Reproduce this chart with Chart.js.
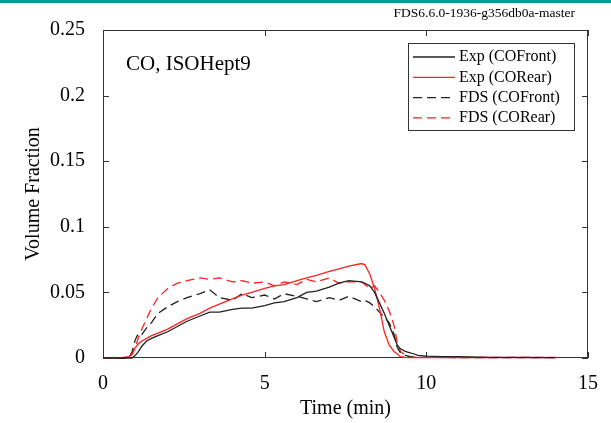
<!DOCTYPE html>
<html>
<head>
<meta charset="utf-8">
<script src="https://cdn.jsdelivr.net/npm/chart.js@4.4.1/dist/chart.umd.min.js"></script>
<style>
  body { margin: 0; background: #fff; }
  #wrap { position: relative; width: 611px; height: 423px; }
  #bar { position: absolute; left: 0; top: 0; width: 611px; height: 3px; background: #0a9a94; }
  #stamp { position: absolute; right: 36px; top: 5px; font: 13.5px "Liberation Serif", serif; color: #000; }
</style>
</head>
<body>
<div id="wrap">
  <canvas id="chart" width="611" height="423"></canvas>
  <div id="bar"></div>
  <div id="stamp">FDS6.6.0-1936-g356db0a-master</div>
</div>
<script>
// time in minutes, shared by all four series
const time = [0, 0.5, 0.8, 0.9, 1.0, 1.1, 1.2, 1.35, 1.5, 1.7, 2.0, 2.3, 2.6, 3.0, 3.3, 3.6, 4.0, 4.3, 4.6, 5.0,
  5.3, 5.6, 6.0, 6.3, 6.6, 7.0, 7.3, 7.6, 8.0, 8.1, 8.25, 8.4, 8.55, 8.7, 8.85, 9.0, 9.1, 9.2, 9.35, 9.5,
  9.75, 10, 10.5, 11, 12, 13, 14];

const expFront = [0, 0, 0, 0, 0.002, 0.005, 0.009, 0.013, 0.015, 0.017, 0.020, 0.024, 0.028, 0.032, 0.035, 0.035, 0.037, 0.038, 0.038, 0.040,
  0.042, 0.043, 0.046, 0.050, 0.051, 0.054, 0.057, 0.059, 0.058, 0.057, 0.055, 0.050, 0.042, 0.034, 0.025, 0.016, 0.010, 0.007, 0.005, 0.004,
  0.002, 0.0015, 0.001, 0.001, 0.0005, 0.0005, 0.0003];

const expRear = [0, 0, 0.001, 0.003, 0.008, 0.011, 0.013, 0.015, 0.017, 0.019, 0.022, 0.026, 0.030, 0.034, 0.038, 0.041, 0.045, 0.048, 0.050, 0.053,
  0.055, 0.056, 0.059, 0.061, 0.063, 0.066, 0.068, 0.070, 0.072, 0.071, 0.064, 0.053, 0.038, 0.020, 0.010, 0.005, 0.003, 0.001, 0.0005, 0.0003,
  0.0003, 0.0003, 0.0003, 0.0003, 0.0003, 0.0003, 0.0003];

const fdsFront = [0, 0, 0, 0.005, 0.014, 0.019, 0.018, 0.023, 0.027, 0.034, 0.039, 0.043, 0.046, 0.049, 0.052, 0.046, 0.044, 0.049, 0.046, 0.048,
  0.045, 0.049, 0.047, 0.045, 0.043, 0.046, 0.044, 0.047, 0.043, 0.044, 0.042, 0.039, 0.035, 0.031, 0.027, 0.018, 0.008, 0.004, 0.002, 0.001,
  0.0005, 0.0005, 0.0005, 0.0003, 0.0003, 0.0003, 0.0003];

const fdsRear = [0, 0, 0, 0.003, 0.008, 0.016, 0.022, 0.030, 0.038, 0.046, 0.053, 0.057, 0.059, 0.061, 0.060, 0.061, 0.058, 0.059, 0.057, 0.058,
  0.055, 0.058, 0.056, 0.060, 0.058, 0.061, 0.057, 0.058, 0.058, 0.056, 0.053, 0.055, 0.050, 0.044, 0.036, 0.025, 0.012, 0.005, 0.002, 0.001,
  0.0005, 0.0005, 0.0005, 0.0005, 0.0005, 0.0005, 0.0005];

const xTicks = [0, 5, 10, 15];
const yTicks = [0, 0.05, 0.1, 0.15, 0.2, 0.25];
const seriesLabels = ["Exp (COFront)", "Exp (CORear)", "FDS (COFront)", "FDS (CORear)"];

const serif = "'Liberation Serif', 'Times New Roman', serif";

function pts(vals) {
  return time.map((t, i) => ({ x: t, y: vals[i] }));
}

// frame and inward ticks, under the data
const frame = {
  id: "frame",
  beforeDatasetsDraw(chart) {
    const ctx = chart.ctx;
    const a = chart.chartArea;
    const xs = chart.scales.x, ys = chart.scales.y;
    ctx.save();
    ctx.strokeStyle = "#333";
    ctx.lineWidth = 1;
    ctx.strokeRect(a.left + 0.5, a.top + 0.5, a.right - a.left - 1, a.bottom - a.top - 1);
    ctx.beginPath();
    xTicks.forEach(v => {
      const px = Math.round(xs.getPixelForValue(v)) + 0.5;
      ctx.moveTo(px, a.bottom); ctx.lineTo(px, a.bottom - 6);
      ctx.moveTo(px, a.top); ctx.lineTo(px, a.top + 6);
    });
    yTicks.forEach(v => {
      const py = Math.round(ys.getPixelForValue(v)) + 0.5;
      ctx.moveTo(a.left, py); ctx.lineTo(a.left + 6, py);
      ctx.moveTo(a.right, py); ctx.lineTo(a.right - 6, py);
    });
    ctx.stroke();
    ctx.restore();
  }
};

// legend box and the panel label
const decor = {
  id: "decor",
  afterDraw(chart) {
    const ctx = chart.ctx;
    ctx.save();
    ctx.fillStyle = "#000";
    ctx.font = "21px " + serif;
    ctx.textBaseline = "middle";
    ctx.fillText("CO, ISOHept9", 126, 64);

    ctx.fillStyle = "#fff";
    ctx.fillRect(408, 43, 166, 87);
    ctx.strokeStyle = "#333";
    ctx.lineWidth = 1;
    ctx.strokeRect(408.5, 43.5, 166, 87);
    ctx.font = "16px " + serif;
    chart.data.datasets.forEach((ds, i) => {
      const y = 57 + i * 20.3;
      ctx.strokeStyle = ds.borderColor;
      ctx.lineWidth = 1.3;
      ctx.setLineDash(ds.borderDash || []);
      ctx.beginPath();
      ctx.moveTo(413, y); ctx.lineTo(455, y);
      ctx.stroke();
      ctx.setLineDash([]);
      ctx.fillStyle = "#000";
      ctx.fillText(ds.label, 459, y);
    });
    ctx.restore();
  }
};

new Chart(document.getElementById("chart"), {
  type: "line",
  data: {
    datasets: [
      { label: seriesLabels[0], data: pts(expFront), borderColor: "#222", borderWidth: 1.3, clip: 3 },
      { label: seriesLabels[1], data: pts(expRear), borderColor: "#ff2020", borderWidth: 1.3, clip: 3 },
      { label: seriesLabels[2], data: pts(fdsFront), borderColor: "#222", borderWidth: 1.3, borderDash: [9, 5], clip: 3 },
      { label: seriesLabels[3], data: pts(fdsRear), borderColor: "#ff2020", borderWidth: 1.3, borderDash: [9, 5], clip: 3 }
    ]
  },
  options: {
    responsive: false,
    animation: false,
    layout: { padding: { top: 30, right: 23, left: 0, bottom: 0 } },
    elements: { point: { radius: 0 }, line: { tension: 0 } },
    plugins: { legend: { display: false }, tooltip: { enabled: false } },
    scales: {
      x: {
        type: "linear",
        min: 0, max: 15,
        grid: { display: false },
        border: { display: false },
        afterFit: s => { s.height = 65; },
        afterBuildTicks: s => { s.ticks = xTicks.map(v => ({ value: v })); },
        ticks: { padding: 6, color: "#000", font: { family: serif, size: 20 }, maxRotation: 0 },
        title: { display: true, text: "Time (min)", color: "#000", font: { family: serif, size: 20 }, padding: { top: 0, bottom: 2 } }
      },
      y: {
        min: 0, max: 0.25,
        grid: { display: false },
        border: { display: false },
        afterFit: s => { s.width = 103; },
        afterBuildTicks: s => { s.ticks = yTicks.map(v => ({ value: v })); },
        ticks: { padding: 10, color: "#000", font: { family: serif, size: 20 }, callback: v => String(+v.toFixed(2)) },
        title: { display: true, text: "Volume Fraction", color: "#000", font: { family: serif, size: 20 }, padding: { top: 22, bottom: 0 } }
      }
    }
  },
  plugins: [frame, decor]
});
</script>
</body>
</html>
